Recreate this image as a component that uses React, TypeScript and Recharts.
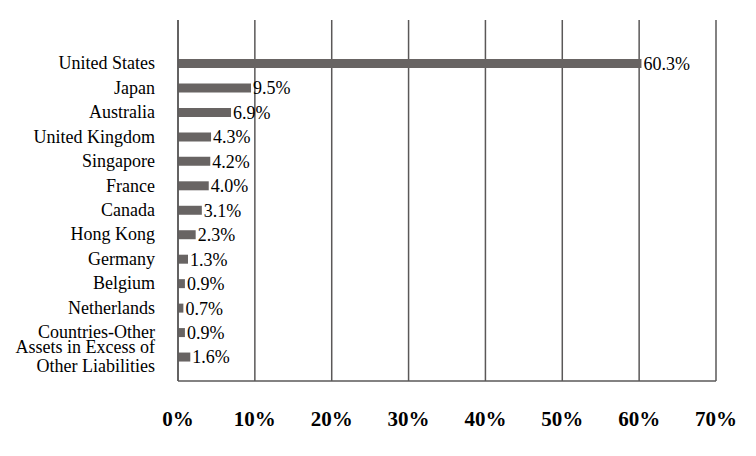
import React from 'react';
import { BarChart, Bar, XAxis, YAxis, CartesianGrid, LabelList } from 'recharts';

const countries = [
  'United States',
  'Japan',
  'Australia',
  'United Kingdom',
  'Singapore',
  'France',
  'Canada',
  'Hong Kong',
  'Germany',
  'Belgium',
  'Netherlands',
  'Countries-Other',
  'Assets in Excess of Other Liabilities',
];

const weights = [60.3, 9.5, 6.9, 4.3, 4.2, 4.0, 3.1, 2.3, 1.3, 0.9, 0.7, 0.9, 1.6];

const xTicks = [0, 10, 20, 30, 40, 50, 60, 70];

const data = countries.map((name, i) => ({ name, value: weights[i] }));

const FONT = '"Liberation Serif", "Times New Roman", serif';
const GRID = '#5a5858';
const BAR = '#686463';

// break long names into lines of at most ~19 characters
function wrap(text: string, max = 19) {
  const lines: string[] = [];
  let cur = '';
  for (const w of text.split(' ')) {
    const next = cur ? cur + ' ' + w : w;
    if (next.length > max && cur) {
      lines.push(cur);
      cur = w;
    } else {
      cur = next;
    }
  }
  if (cur) lines.push(cur);
  return lines;
}

function CategoryTick(props: any) {
  const { x, y, payload } = props;
  const lines = wrap(payload.value);
  const lh = 19;
  const start = y - ((lines.length - 1) * lh) / 2;
  return (
    <g>
      {lines.map((line, i) => (
        <text
          key={i}
          x={x - 23}
          y={start + i * lh}
          textAnchor="end"
          dominantBaseline="central"
          fontFamily={FONT}
          fontSize={18}
          fill="#000"
        >
          {line}
        </text>
      ))}
    </g>
  );
}

function PercentTick(props: any) {
  const { x, y, payload } = props;
  return (
    <text
      x={x}
      y={y + 36}
      textAnchor="middle"
      dominantBaseline="central"
      fontFamily={FONT}
      fontSize={21}
      fontWeight="bold"
      fill="#000"
    >
      {payload.value}%
    </text>
  );
}

export default function App() {
  return (
    <div style={{ position: 'absolute', left: 0, top: 0, background: '#fff' }}>
      <BarChart
        width={756}
        height={456}
        data={data}
        layout="vertical"
        margin={{ top: 20, right: 40, left: 8, bottom: 0 }}
      >
        <CartesianGrid horizontal={false} stroke={GRID} strokeWidth={1.5} />
        <XAxis
          type="number"
          domain={[0, 70]}
          ticks={xTicks}
          tickLine={false}
          tickSize={0}
          axisLine={{ stroke: GRID, strokeWidth: 1.5 }}
          height={75}
          tick={<PercentTick />}
          interval={0}
        />
        <YAxis
          type="category"
          dataKey="name"
          width={170}
          tickLine={false}
          tickSize={0}
          tickMargin={0}
          axisLine={{ stroke: GRID, strokeWidth: 1.5 }}
          padding={{ top: 31, bottom: 12 }}
          tick={<CategoryTick />}
          interval={0}
        />
        <Bar dataKey="value" fill={BAR} barSize={9} isAnimationActive={false}>
          <LabelList
            dataKey="value"
            position="right"
            offset={2}
            formatter={(v: any) => `${Number(v).toFixed(1)}%`}
            style={{ fontFamily: FONT, fontSize: 18, fill: '#000' }}
          />
        </Bar>
      </BarChart>
    </div>
  );
}
